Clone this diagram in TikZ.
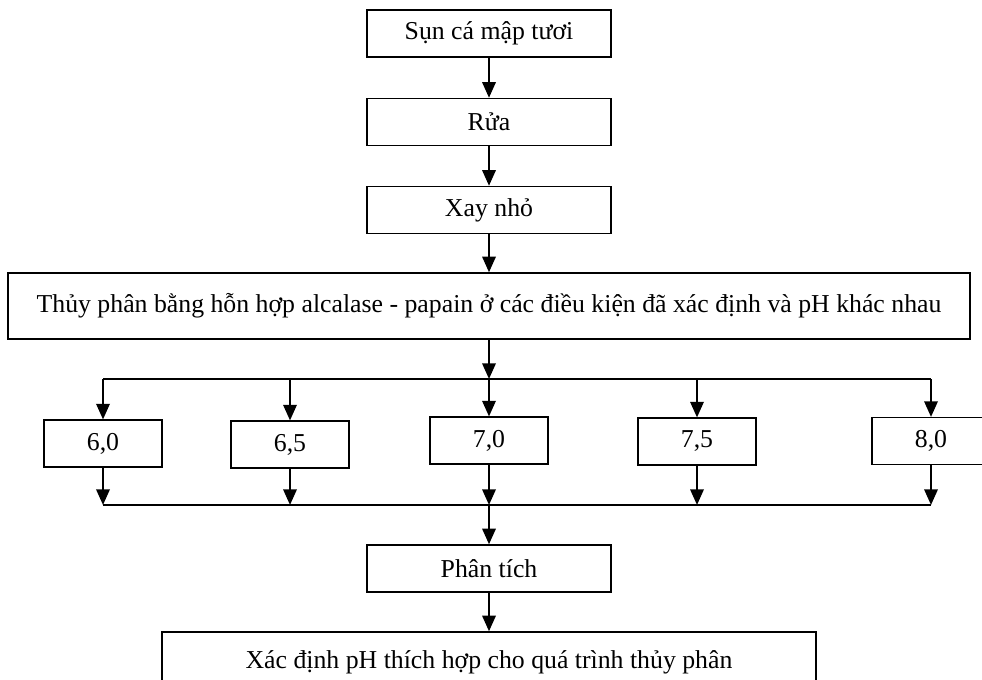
\documentclass[tikz,border=0pt]{standalone}
\usepackage{fontspec}
\setmainfont{Liberation Serif}
\usetikzlibrary{arrows.meta}
\begin{document}
\begin{tikzpicture}[x=0.03cm,y=-0.03cm,font=\fontsize{22}{26}\selectfont]
\tikzstyle{stage}=[draw,line width=1.2pt,inner sep=0pt,minimum width=7.32cm,minimum height=1.41cm]
\tikzstyle{phbox}=[draw,line width=1.2pt,inner sep=0pt,minimum width=3.54cm,minimum height=1.4cm]
\tikzstyle{flow}=[line width=2pt,-{Triangle[length=0.47cm,width=0.4cm]}]
\tikzstyle{bus}=[line width=1.1pt]

\useasboundingbox (0,0) rectangle (982,680);
\clip (0,0) rectangle (982,680);

\node[stage] (raw) at (489,33.5) {Sụn cá mập tươi};
\node[stage] (rua) at (489,122) {Rửa};
\node[stage] (xay) at (489,210) {Xay nhỏ};
\node[stage,minimum width=28.86cm,minimum height=1.98cm] (hyd) at (489,306)
  {Thủy phân bằng hỗn hợp alcalase - papain ở các điều kiện đã xác định và pH khác nhau};

\node[phbox] (p60) at (103,443.5) {6,0};
\node[phbox] (p65) at (290,444.5) {6,5};
\node[phbox] (p70) at (489,440.5) {7,0};
\node[phbox] (p75) at (697,441.5) {7,5};
\node[phbox] (p80) at (931,441) {8,0};

\node[stage] (ana) at (489,568.5) {Phân tích};
\node[stage,minimum width=19.62cm,minimum height=1.8cm] (res) at (489,662)
  {Xác định pH thích hợp cho quá trình thủy phân};

% split and join lines
\coordinate (split) at (489,379);
\coordinate (join) at (489,505);
\coordinate (t60) at (p60 |- split);
\coordinate (t65) at (p65 |- split);
\coordinate (t75) at (p75 |- split);
\coordinate (t80) at (p80 |- split);
\coordinate (b60) at (p60 |- join);
\coordinate (b65) at (p65 |- join);
\coordinate (b70) at (p70 |- join);
\coordinate (b75) at (p75 |- join);
\coordinate (b80) at (p80 |- join);

\draw[bus] (t60) -- (t80);
\draw[bus] (b60) -- (b80);

\path
  (raw) edge [flow] (rua)
  (rua) edge [flow] (xay)
  (xay) edge [flow] (hyd)
  (hyd) edge [flow] (split)
  (t60) edge [flow] (p60)
  (t65) edge [flow] (p65)
  (split) edge [flow] (p70)
  (t75) edge [flow] (p75)
  (t80) edge [flow] (p80)
  (p60) edge [flow] (b60)
  (p65) edge [flow] (b65)
  (p70) edge [flow] (b70)
  (p75) edge [flow] (b75)
  (p80) edge [flow] (b80)
  (join) edge [flow] (ana)
  (ana) edge [flow] (res);
\end{tikzpicture}
\end{document}
